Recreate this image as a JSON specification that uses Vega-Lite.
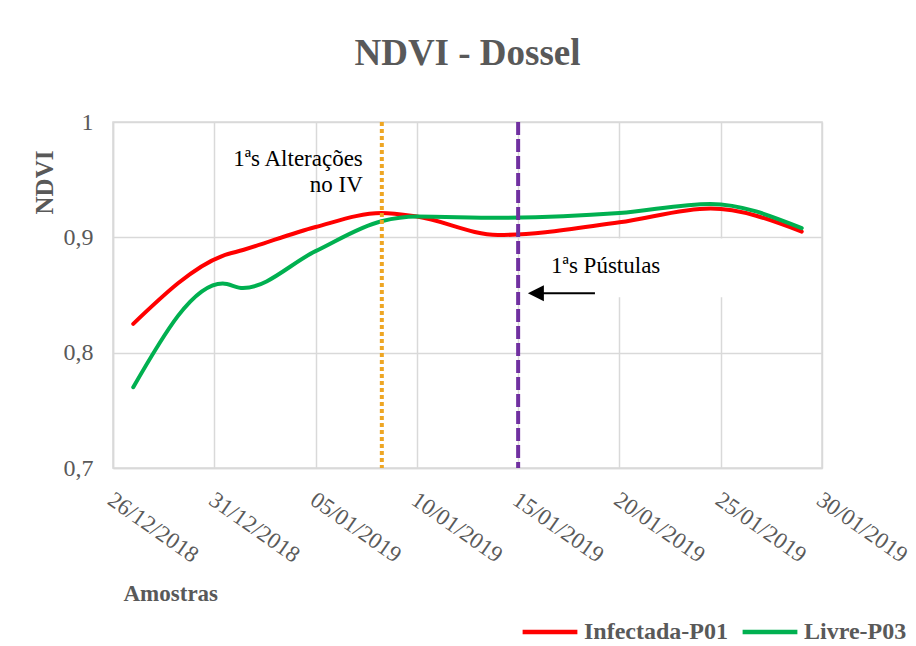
{
  "$schema": "https://vega.github.io/schema/vega-lite/v6.json",
  "width": 709,
  "height": 346,
  "autosize": {"type": "none"},
  "padding": {"left": 113, "top": 122, "right": 94, "bottom": 178},
  "background": "white",
  "title": {
    "text": "NDVI - Dossel",
    "font": "Liberation Serif",
    "fontSize": 37,
    "fontWeight": "bold",
    "color": "#595959",
    "anchor": "middle",
    "frame": "group",
    "baseline": "alphabetic",
    "offset": 8
  },
  "config": {
    "view": {"stroke": "#d9d9d9", "strokeWidth": 1.5},
    "text": {"font": "Liberation Serif"},
    "axis": {
      "labelFont": "Liberation Serif",
      "labelColor": "#595959",
      "titleFont": "Liberation Serif",
      "titleColor": "#595959",
      "titleFontWeight": "bold",
      "gridColor": "#d9d9d9",
      "gridWidth": 1.5,
      "domainColor": "#d9d9d9",
      "domainWidth": 1.5,
      "ticks": false
    }
  },
  "layer": [
    {
      "data": {"values": [{"x1": "2019-01-17T00:00:00", "x2": "2019-01-28T00:00:00", "y1": 0.848, "y2": 0.899}]},
      "mark": {"type": "rect", "color": "white"},
      "encoding": {
        "x": {"field": "x1", "type": "temporal"},
        "x2": {"field": "x2"},
        "y": {"field": "y1", "type": "quantitative"},
        "y2": {"field": "y2"}
      }
    },
    {
      "data": {
        "values": [
          {"data": "2018-12-27T00:00:00", "serie": "Infectada-P01", "ndvi": 0.825},
          {"data": "2018-12-31T10:00:00", "serie": "Infectada-P01", "ndvi": 0.884},
          {"data": "2019-01-01T10:00:00", "serie": "Infectada-P01", "ndvi": 0.889},
          {"data": "2019-01-05T00:00:00", "serie": "Infectada-P01", "ndvi": 0.909},
          {"data": "2019-01-08T06:00:00", "serie": "Infectada-P01", "ndvi": 0.921},
          {"data": "2019-01-10T00:00:00", "serie": "Infectada-P01", "ndvi": 0.918},
          {"data": "2019-01-14T00:00:00", "serie": "Infectada-P01", "ndvi": 0.902},
          {"data": "2019-01-20T00:00:00", "serie": "Infectada-P01", "ndvi": 0.913},
          {"data": "2019-01-24T12:00:00", "serie": "Infectada-P01", "ndvi": 0.925},
          {"data": "2019-01-29T00:00:00", "serie": "Infectada-P01", "ndvi": 0.905},
          {"data": "2018-12-27T00:00:00", "serie": "Livre-P03", "ndvi": 0.770},
          {"data": "2018-12-31T10:00:00", "serie": "Livre-P03", "ndvi": 0.860},
          {"data": "2019-01-01T10:00:00", "serie": "Livre-P03", "ndvi": 0.856},
          {"data": "2019-01-05T00:00:00", "serie": "Livre-P03", "ndvi": 0.888},
          {"data": "2019-01-08T06:00:00", "serie": "Livre-P03", "ndvi": 0.914},
          {"data": "2019-01-10T00:00:00", "serie": "Livre-P03", "ndvi": 0.918},
          {"data": "2019-01-14T00:00:00", "serie": "Livre-P03", "ndvi": 0.917},
          {"data": "2019-01-20T00:00:00", "serie": "Livre-P03", "ndvi": 0.921},
          {"data": "2019-01-24T12:00:00", "serie": "Livre-P03", "ndvi": 0.929},
          {"data": "2019-01-29T00:00:00", "serie": "Livre-P03", "ndvi": 0.908}
        ]
      },
      "mark": {"type": "line", "interpolate": "monotone", "strokeWidth": 4, "strokeCap": "round"},
      "encoding": {
        "x": {
          "field": "data",
          "type": "temporal",
          "scale": {"domain": [{"year": 2018, "month": 12, "date": 26}, {"year": 2019, "month": 1, "date": 30}]},
          "axis": {
            "values": [
              {"year": 2018, "month": 12, "date": 26},
              {"year": 2018, "month": 12, "date": 31},
              {"year": 2019, "month": 1, "date": 5},
              {"year": 2019, "month": 1, "date": 10},
              {"year": 2019, "month": 1, "date": 15},
              {"year": 2019, "month": 1, "date": 20},
              {"year": 2019, "month": 1, "date": 25},
              {"year": 2019, "month": 1, "date": 30}
            ],
            "format": "%d/%m/%Y",
            "labelAngle": 35,
            "labelAlign": "left",
            "labelBaseline": "top",
            "labelPadding": 20,
            "labelOffset": 3,
            "labelFontSize": 23,
            "labelFlush": false,
            "labelOverlap": false,
            "labelBound": false,
            "title": "Amostras",
            "titleFontSize": 23,
            "titleX": 10,
            "titleY": 132,
            "titleAlign": "left",
            "titleBaseline": "alphabetic"
          }
        },
        "y": {
          "field": "ndvi",
          "type": "quantitative",
          "scale": {"domain": [0.7, 1], "zero": false, "nice": false},
          "axis": {
            "values": [0.7, 0.8, 0.9, 1],
            "labelExpr": "datum.value == 1 ? '1' : replace(format(datum.value, '.1f'), '.', ',')",
            "labelFontSize": 24,
            "labelPadding": 20,
            "title": "NDVI",
            "titleFontSize": 25,
            "titleAngle": 270,
            "titleX": -61,
            "titleY": 60,
            "titleAlign": "center",
            "titleBaseline": "alphabetic"
          }
        },
        "color": {
          "field": "serie",
          "type": "nominal",
          "scale": {"domain": ["Infectada-P01", "Livre-P03"], "range": ["#ff0000", "#00b050"]},
          "legend": {
            "title": null,
            "orient": "none",
            "direction": "horizontal",
            "legendX": 407,
            "legendY": 480,
            "padding": 0,
            "labelFont": "Liberation Serif",
            "labelFontSize": 24,
            "labelFontWeight": "bold",
            "labelColor": "#595959",
            "symbolType": "stroke",
            "symbolSize": 3000,
            "symbolStrokeWidth": 4.5,
            "labelOffset": 4,
            "columnPadding": 5
          }
        }
      }
    },
    {
      "data": {"values": [{"data": "2019-01-08T06:30:00"}]},
      "mark": {"type": "rule", "color": "#eea624", "strokeWidth": 4, "strokeDash": [4, 3]},
      "encoding": {"x": {"field": "data", "type": "temporal"}}
    },
    {
      "data": {"values": [{"data": "2019-01-15T00:00:00"}]},
      "mark": {"type": "rule", "color": "#7030a0", "strokeWidth": 4, "strokeDash": [13, 4]},
      "encoding": {"x": {"field": "data", "type": "temporal"}}
    },
    {
      "data": {"values": [{"data": "2019-01-07T08:00:00", "ndvi": 0.962, "rotulo": "1ªs Alterações\nno IV"}]},
      "mark": {"type": "text", "align": "right", "baseline": "alphabetic", "font": "Liberation Serif", "fontSize": 23, "lineHeight": 26, "lineBreak": "\n", "color": "black"},
      "encoding": {
        "x": {"field": "data", "type": "temporal"},
        "y": {"field": "ndvi", "type": "quantitative"},
        "text": {"field": "rotulo"}
      }
    },
    {
      "data": {"values": [{"data": "2019-01-16T15:00:00", "ndvi": 0.869, "rotulo": "1ªs Pústulas"}]},
      "mark": {"type": "text", "align": "left", "baseline": "alphabetic", "font": "Liberation Serif", "fontSize": 23, "color": "black"},
      "encoding": {
        "x": {"field": "data", "type": "temporal"},
        "y": {"field": "ndvi", "type": "quantitative"},
        "text": {"field": "rotulo"}
      }
    },
    {
      "data": {"values": [{"inicio": "2019-01-16T02:00:00", "fim": "2019-01-18T19:00:00", "ndvi": 0.8515}]},
      "mark": {"type": "rule", "color": "black", "strokeWidth": 2},
      "encoding": {
        "x": {"field": "inicio", "type": "temporal"},
        "x2": {"field": "fim"},
        "y": {"field": "ndvi", "type": "quantitative"}
      }
    },
    {
      "data": {"values": [{"data": "2019-01-15T21:00:00", "ndvi": 0.8515}]},
      "mark": {"type": "point", "shape": "M-1,0L1,-1L1,1Z", "filled": true, "color": "black", "size": 256, "opacity": 1, "strokeWidth": 0},
      "encoding": {
        "x": {"field": "data", "type": "temporal"},
        "y": {"field": "ndvi", "type": "quantitative"}
      }
    }
  ]
}
